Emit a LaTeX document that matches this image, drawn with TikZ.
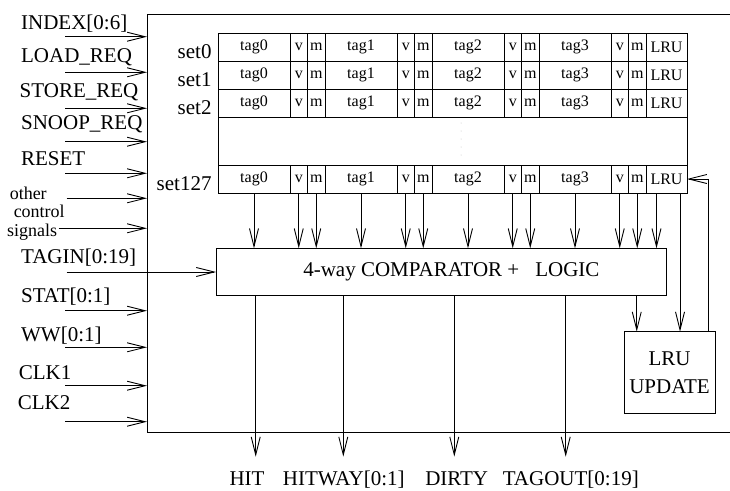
\documentclass[tikz,border=0pt]{standalone}
\usepackage{fontspec}
\setmainfont{Liberation Serif}
\usetikzlibrary{arrows.meta,positioning,calc}
\newcommand{\bigf}{\fontsize{21}{28}\selectfont}
\newcommand{\midf}{\fontsize{18}{20}\selectfont}
\newcommand{\cellf}{\fontsize{16}{18}\selectfont}
\tikzset{
  blk/.style={draw,inner sep=0pt,outer sep=0pt,align=center,font=\bigf},
  cell/.style={blk,anchor=north west,minimum height=28pt,font=\cellf},
  tagcell/.style={cell,minimum width=72pt},
  bitcell/.style={cell,minimum width=17.5pt},
  lrucell/.style={cell,minimum width=41pt},
  sig/.style={inner sep=0pt,anchor=west,font=\bigf},
  ar/.style={-{Straight Barb[length=18pt,width=9pt]}},
}

\begin{document}
\begin{tikzpicture}[x=1pt,y=-1pt,line width=0.9pt]
  \useasboundingbox (0,0) rectangle (730,490);
  \node[blk,anchor=north west,minimum width=600pt,minimum height=418pt] (chip) at (147,14) {};
  % cache rows
  \foreach \row/\y in {0/33,1/61,2/89,127/165}{
    \node[sig,anchor=base east] (set\row) at (212,{\y+25}) {set\row};
    \foreach \g in {0,...,3}{
      \node[tagcell] (tag\g-\row) at ({218+107*\g},\y) {tag\g};
      \node[bitcell] (v\g-\row) at (tag\g-\row.north east) {v};
      \node[bitcell] (m\g-\row) at (v\g-\row.north east) {m};
    }
    \node[lrucell] (lru\row) at (m3-\row.north east) {LRU};
  }
  \draw (tag0-2.south west) -- (tag0-127.north west);
  \draw (lru2.south east) -- (lru127.north east);
  \foreach \d in {0,...,4} \fill[gray!50] (461,{123+8*\d}) circle (0.5pt);

  \node[blk,minimum width=450.7pt,minimum height=47.4pt] (cmp) at (441.4,272)
       {\hspace*{20pt}4-way COMPARATOR +\hspace{16pt}LOGIC};
  \foreach \g in {0,...,3}
    \foreach \c in {tag,v,m}
      \draw[ar] (\c\g-127.south) -- (\c\g-127.south |- cmp.north);
  \draw[ar] ([xshift=-10pt]lru127.south) -- ([xshift=-10pt]lru127.south |- cmp.north);

  \node[blk,minimum width=91pt,minimum height=81.6pt] (upd) at (669.5,372.5) {LRU\\UPDATE};
  \draw[ar] ([xshift=-30pt]cmp.south east) -- ([xshift=-30pt]cmp.south east |- upd.north);
  \draw[ar] ([xshift=13.5pt]lru127.south) -- ([xshift=13.5pt]lru127.south |- upd.north);
  \draw[ar] ([xshift=-7pt]upd.north east) |- (lru127.east);

  % inputs
  \foreach \n/\lx/\ty/\ay/\txt in {
      index/20.7/24/36.7/{INDEX[0:6]},
      load/20.7/57/72.3/LOAD\_REQ,
      store/19.3/92.5/108.3/STORE\_REQ,
      snoop/20.7/124/141.7/SNOOP\_REQ,
      reset/20.7/159/173.3/RESET,
      stat/20.7/296.7/310.7/{STAT[0:1]},
      ww/20.7/336/347.3/{WW[0:1]},
      clk1/18.3/372.5/385.7/CLK1,
      clk2/17.3/402.5/421.7/CLK2}{
    \node[sig] (\n) at (\lx,\ty) {\txt};
    \coordinate (\n-in) at (65,\ay);
    \draw[ar] (\n-in) -- (\n-in -| chip.west);
  }
  \node[sig,anchor=base west,font=\midf] (oth) at (9.3,199.5) {other};
  \node[sig,anchor=base west,font=\midf] (ctl) at (13.3,217) {control};
  \node[sig,anchor=base west,font=\midf] (sgn) at (6.7,236) {signals};
  \coordinate (oth-in) at (66.7,198.3);
  \draw[ar] (oth-in) -- (oth-in -| chip.west);
  \coordinate (sgn-in) at ([xshift=1pt]sgn.east |- 0,228.3);
  \draw[ar] (sgn-in) -- (sgn-in -| chip.west);
  \node[sig] (tagin) at (20.7,257.5) {TAGIN[0:19]};
  \coordinate (tagin-in) at (66.7,272);
  \draw[ar] (tagin-in) -- (cmp.west);

  % outputs
  \foreach \n/\x/\lx/\txt in {hit/255.7/247/HIT,hitway/343.3/343.8/{HITWAY[0:1]},
      dirty/454.3/456.7/DIRTY,tagout/565.7/570.8/{TAGOUT[0:19]}}{
    \node[sig,anchor=base] (\n) at (\lx,485) {\txt};
    \coordinate (\n-out) at (\x,456.7);
    \draw[ar] (\n-out |- cmp.south) -- (\n-out);
  }
\end{tikzpicture}
\end{document}
